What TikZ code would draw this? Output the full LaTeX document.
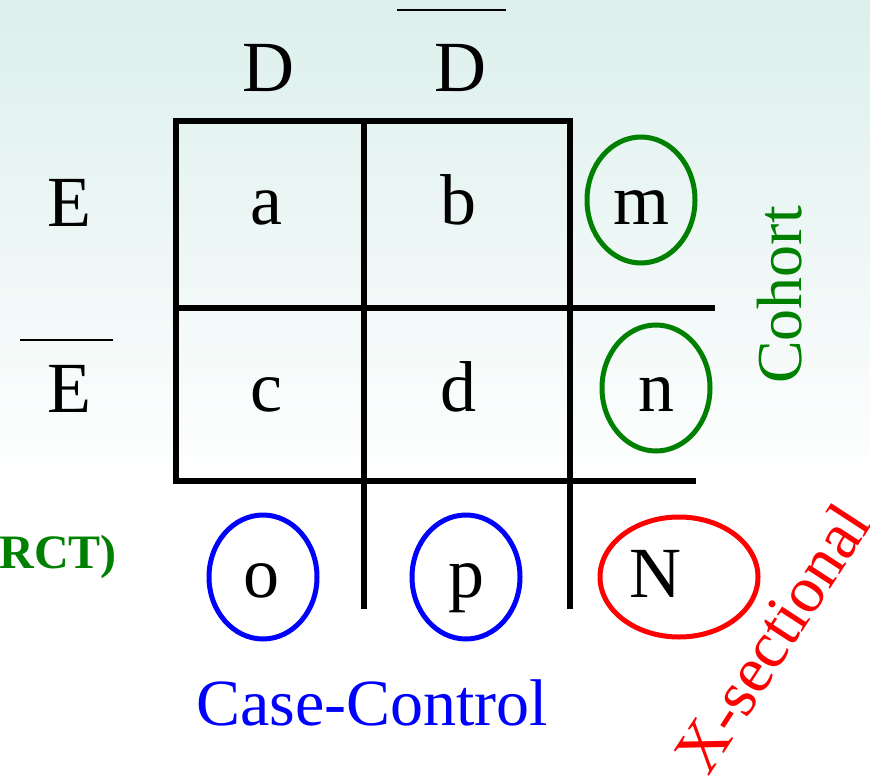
\documentclass[tikz,border=0pt]{standalone}
\usepackage{fontspec}
\setmainfont{Liberation Serif}
\usetikzlibrary{shapes.geometric}
\definecolor{bgtop}{RGB}{220,239,236}
\definecolor{cgreen}{RGB}{0,128,0}
\definecolor{cblue}{RGB}{0,0,255}
\definecolor{cred}{RGB}{255,0,0}
\tikzset{
  grid/.style={line width=6pt, line cap=rect},
  letter/.style={anchor=base, inner sep=0pt, font=\fontsize{72}{72}\selectfont},
  ring/.style={ellipse, draw, line width=5pt, inner sep=0pt},
  barline/.style={line width=2pt},
}
\begin{document}
\begin{tikzpicture}[x=1pt,y=-1pt]
  % page and background wash
  \useasboundingbox (0,0) rectangle (870,781);
  \fill[white] (0,0) rectangle (870,781);
  \shade[top color=bgtop, bottom color=white] (0,0) rectangle (870,490);
  \clip (0,0) rectangle (870,781);

  % table frame
  \coordinate (tl) at (176,121);
  \coordinate (tr) at (570,121);
  \coordinate (ml) at (176,308);
  \coordinate (mr) at (712,308);
  \coordinate (bl) at (176,481);
  \coordinate (br) at (693,481);
  \coordinate (c1t) at (364,121);
  \coordinate (c1b) at (364,606);
  \coordinate (c2b) at (570,606);
  \draw[grid] (tl) -- (tr);
  \draw[grid] (tl) -- (bl);
  \draw[grid] (ml) -- (mr);
  \draw[grid] (bl) -- (br);
  \draw[grid] (c1t) -- (c1b);
  \draw[grid] (tr) -- (c2b);

  % column and row headers
  \node[letter] (hD) at (268,92) {D};
  \node[letter] (hDn) at (460,92) {D};
  \coordinate (dbarL) at (397,10);
  \coordinate (dbarR) at (506,10);
  \draw[barline] (dbarL) -- (dbarR);
  \node[letter] (hE) at (69,226) {E};
  \node[letter] (hEn) at (69,412) {E};
  \coordinate (ebarL) at (20,340);
  \coordinate (ebarR) at (113,340);
  \draw[barline] (ebarL) -- (ebarR);

  % cell entries
  \node[letter] (a) at (266,224) {a};
  \node[letter] (b) at (458,224) {b};
  \node[letter] (c) at (266,411) {c};
  \node[letter] (d) at (458,411) {d};

  % margin totals
  \node[ring, draw=cgreen, minimum width=108pt, minimum height=126pt] (rm) at (641,200) {};
  \node[letter] (m) at (641,224) {m};
  \node[ring, draw=cgreen, minimum width=108pt, minimum height=126pt] (rn) at (656,388) {};
  \node[letter] (n) at (656,411) {n};
  \node[ring, draw=cblue, minimum width=108pt, minimum height=124pt] (ro) at (263,577) {};
  \node[letter] (o) at (261,597) {o};
  \node[ring, draw=cblue, minimum width=108pt, minimum height=124pt] (rp) at (466,577) {};
  \node[letter] (p) at (466,597) {p};
  \node[ring, draw=cred, minimum width=158pt, minimum height=120pt] (rN) at (679,577) {};
  \node[letter] (N) at (655,597) {N};

  % study design labels
  \node[inner sep=0pt, text=cgreen, rotate=90, font=\fontsize{64}{64}\selectfont] (cohort) at (780,295) {Cohort};
  \node[inner sep=0pt, anchor=base east, text=cgreen, font=\bfseries\fontsize{48}{48}\selectfont] (rct) at (117,568) {(RCT)};
  \node[inner sep=0pt, text=cblue, font=\fontsize{66}{66}\selectfont] (cc) at (372,703) {Case-Control};
  \node[inner sep=0pt, text=cred, rotate=57, font=\fontsize{66}{66}\selectfont] (xs) at (772,638) {X-sectional};
\end{tikzpicture}
\end{document}
